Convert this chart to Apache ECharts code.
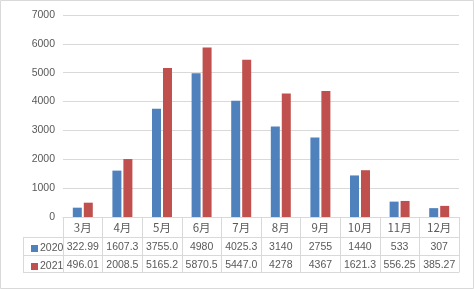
<!DOCTYPE html>
<html><head><meta charset="utf-8">
<script src="https://cdn.jsdelivr.net/npm/echarts@6/dist/echarts.min.js"></script>
<style>html,body{margin:0;padding:0;background:#fff}#c{width:474px;height:289px}</style>
</head><body><div id="c"></div>
<script>
var categories = ['3月','4月','5月','6月','7月','8月','9月','10月','11月','12月'];
var v2020 = ['322.99','1607.3','3755.0','4980','4025.3','3140','2755','1440','533','307'];
var v2021 = ['496.01','2008.5','5165.2','5870.5','5447.0','4278','4367','1621.3','556.25','385.27'];
var seriesNames = ['2020','2021'];
var yTicks = {min:0, max:7000, interval:1000};

var gray = '#d9d9d9', txt = '#595959';
function tableAxis(offset, vals, showLabel){
  return {type:'category', data:categories, position:'bottom', offset:offset, gridIndex:0,
    axisLine:{show:true, lineStyle:{color:gray, width:1}},
    axisTick:{show:false},
    axisLabel:{show:showLabel, interval:0, margin:4, lineHeight:12, color:txt, fontFamily:'Liberation Sans', fontSize:10.5,
      formatter:function(v,i){return vals ? vals[i] : v;}}
  };
}
function legendItem(name, top){
  return {orient:'horizontal', left:26, top:top, itemWidth:7, itemHeight:7, icon:'rect',
    textStyle:{fontFamily:'Liberation Sans', fontSize:10.5, color:txt, padding:[0,0,0,-3]}, data:[name]};
}
var chart = echarts.init(document.getElementById('c'), null, {renderer:'canvas'});
chart.setOption({
  animation:false,
  backgroundColor:'#fff',
  grid:{left:63, right:15, top:15, bottom:72, containLabel:false},
  legend:[legendItem(seriesNames[0], 238), legendItem(seriesNames[1], 256)],
  xAxis:[
    {type:'category', data:categories, position:'bottom', offset:0,
      axisLine:{show:true, lineStyle:{color:gray}},
      axisTick:{show:true, length:55, interval:0, lineStyle:{color:gray}},
      axisLabel:{interval:0, margin:4, lineHeight:14, color:txt, fontFamily:'Noto Sans CJK SC', fontSize:11.5}},
    tableAxis(20, v2020, true),
    tableAxis(38, v2021, true),
    tableAxis(55, null, false)
  ],
  yAxis:{type:'value', min:yTicks.min, max:yTicks.max, interval:yTicks.interval,
    axisLine:{show:false}, axisTick:{show:false},
    splitLine:{lineStyle:{color:gray}},
    axisLabel:{margin:8, color:txt, fontFamily:'Liberation Sans', fontSize:10.5, formatter:function(v){return String(v);}}},
  series:[
    {name:seriesNames[0], type:'bar', data:v2020.map(Number), barWidth:9, barGap:'22%', itemStyle:{color:'#4F81BD'}},
    {name:seriesNames[1], type:'bar', data:v2021.map(Number), barWidth:9, barGap:'22%', itemStyle:{color:'#C0504D'}}
  ],
  graphic:[
    {type:'rect', shape:{x:0.5, y:0.5, width:473, height:288}, style:{fill:null, stroke:gray, lineWidth:1}, silent:true},
    {type:'line', shape:{x1:23, y1:237.5, x2:63, y2:237.5}, style:{stroke:gray, lineWidth:1}},
    {type:'line', shape:{x1:23, y1:255.5, x2:63, y2:255.5}, style:{stroke:gray, lineWidth:1}},
    {type:'line', shape:{x1:23, y1:272.5, x2:63, y2:272.5}, style:{stroke:gray, lineWidth:1}},
    {type:'line', shape:{x1:23.5, y1:237, x2:23.5, y2:273}, style:{stroke:gray, lineWidth:1}}
  ]
});
</script></body></html>
